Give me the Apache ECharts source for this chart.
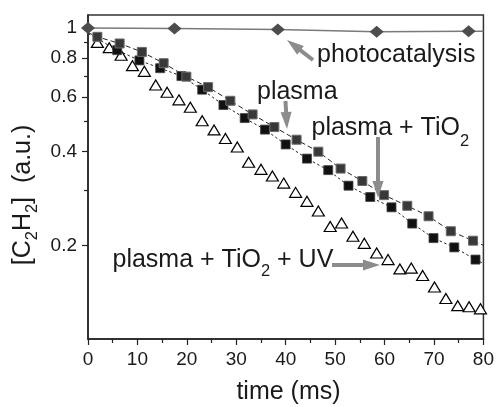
<!DOCTYPE html>
<html><head><meta charset="utf-8">
<script src="https://cdn.jsdelivr.net/npm/echarts@6/dist/echarts.min.js"></script>
<style>html,body{margin:0;padding:0;background:#fff}#c{width:497px;height:407px}</style>
</head><body><div id="c"></div>
<script>
const FONT = '"Liberation Sans", Arial, Helvetica, sans-serif';

// ---- data (time in ms, [C2H2] in a.u.) ----
const photoTime = [0, 17.5, 38.4, 58.4, 77.0];
const photoConc = [1.0, 0.996, 0.988, 0.971, 0.976];
const photoEdge = [80, 0.976];

const plasmaTime = [1.9, 6.4, 10.9, 15.3, 19.9, 24.3, 28.8, 33.3, 37.7, 42.2, 46.6, 51.1, 55.5, 59.9, 64.6, 68.9, 73.4, 77.9];
const plasmaConc = [0.936, 0.891, 0.837, 0.770, 0.697, 0.645, 0.583, 0.527, 0.480, 0.437, 0.400, 0.353, 0.322, 0.290, 0.268, 0.248, 0.222, 0.207];
const plasmaStart = [0, 0.965];
const plasmaEdge = [80, 0.200];

const tio2Time = [5.9, 10.4, 14.6, 18.9, 23.1, 27.4, 31.7, 35.8, 40.0, 44.3, 48.6, 52.7, 57.1, 61.4, 65.6, 69.9, 74.1, 78.4];
const tio2Conc = [0.848, 0.786, 0.742, 0.700, 0.633, 0.565, 0.513, 0.471, 0.422, 0.380, 0.349, 0.311, 0.286, 0.265, 0.235, 0.211, 0.197, 0.180];
const tio2Start = [0, 0.960];
const tio2Edge = [80, 0.175];

const uvTime = [1.9, 4.3, 6.7, 9.0, 11.4, 13.7, 16.0, 18.4, 20.7, 23.1, 25.5, 27.8, 30.2, 32.5, 35.0, 37.3, 39.6, 42.0, 44.3, 46.6, 49.0, 51.3, 53.6, 55.9, 58.4, 60.7, 63.1, 65.4, 67.7, 70.1, 72.4, 74.8, 77.1, 79.4];
const uvConc = [0.898, 0.864, 0.817, 0.756, 0.725, 0.655, 0.621, 0.587, 0.556, 0.503, 0.470, 0.441, 0.414, 0.370, 0.351, 0.334, 0.317, 0.296, 0.277, 0.258, 0.230, 0.236, 0.214, 0.203, 0.189, 0.180, 0.168, 0.169, 0.160, 0.147, 0.135, 0.128, 0.127, 0.125];

const yLabelValues = [0.2, 0.4, 0.6, 0.8, 1];
const yMinorValues = [0.3, 0.5, 0.7, 0.9];

// ---- helpers ----
const zip = (xs, ys) => xs.map((x, i) => [x, ys[i]]);
const ctx = document.createElement('canvas').getContext('2d');
function tw(s, fs) { ctx.font = fs + 'px ' + FONT; return ctx.measureText(s).width; }
const TXT = '#1a1a1a';
function textEl(s, x, y, fs, align) {
  return { type: 'text', x: x, y: y, z: 100,
    style: { text: s, font: fs + 'px ' + FONT, fontSize: fs, fontFamily: FONT, fill: TXT,
      align: align || 'left', textAlign: align || 'left', verticalAlign: 'middle', textVerticalAlign: 'middle' } };
}
function subText(parts, x, y, fs, sfs, dy) {
  const els = []; let cx = x;
  parts.forEach(([s, sub]) => {
    const f = sub ? sfs : fs;
    els.push(textEl(s, cx, sub ? y + dy : y, f, 'left'));
    cx += tw(s, f);
  });
  return els;
}
function subWidth(parts, fs, sfs) { return parts.reduce((a, [s, sub]) => a + tw(s, sub ? sfs : fs), 0); }
const ARROW = '#8c8c8c';
function arrow(x1, y1, x2, y2) {
  const dx = x2 - x1, dy = y2 - y1, L = Math.hypot(dx, dy), ux = dx / L, uy = dy / L;
  const hl = 17, hw = 5.5;
  const bx = x2 - ux * hl, by = y2 - uy * hl;
  return [
    { type: 'line', z: 90, shape: { x1: x1, y1: y1, x2: bx + ux * 2, y2: by + uy * 2 }, style: { stroke: ARROW, lineWidth: 4 } },
    { type: 'polygon', z: 90, shape: { points: [[x2, y2], [bx - uy * hw, by + ux * hw], [bx + uy * hw, by - ux * hw]] }, style: { fill: ARROW } }
  ];
}

// ---- annotations ----
const FS = 25, SFS = 16.5;
const graphics = [];
graphics.push(textEl('photocatalysis', 317, 55.5, FS));
graphics.push(...arrow(313, 60, 287, 40));
graphics.push(textEl('plasma', 257, 91.7, FS));
graphics.push(...arrow(285.5, 101, 287, 129));
graphics.push(...subText([['plasma + TiO', false], ['2', true]], 311.5, 128.4, FS, SFS, 13));
graphics.push(...arrow(378, 137, 378, 198));
graphics.push(...subText([['plasma + TiO', false], ['2', true], [' + UV', false]], 112.5, 260, FS, SFS, 11));
graphics.push(...arrow(332, 265, 380, 265));
graphics.push(textEl('time (ms)', 288.5, 392, FS, 'center'));
const yParts = [['[C', false], ['2', true], ['H', false], ['2', true], [']  (a.u.)', false]];
const yW = subWidth(yParts, FS, SFS);
graphics.push({ type: 'group', x: 23.4, y: 195, rotation: Math.PI / 2, children: subText(yParts, -yW / 2, 0, FS, SFS, 9.5) });

const axisLabelStyle = { color: TXT, fontSize: 19, fontFamily: FONT, margin: 11 };

const chart = echarts.init(document.getElementById('c'), null, { renderer: 'canvas' });
chart.setOption({
  animation: false,
  backgroundColor: '#fff',
  grid: { left: 88, right: 8, top: 15, bottom: 68, show: true, borderColor: '#333', borderWidth: 1.5, backgroundColor: 'transparent' },
  xAxis: {
    type: 'value', min: 0, max: 80, interval: 10,
    axisLine: { show: true, lineStyle: { color: '#222', width: 1.5 } },
    axisTick: { show: true, inside: false, length: 6, lineStyle: { color: '#222', width: 1.2 } },
    minorTick: { show: true, splitNumber: 2, length: 4, lineStyle: { color: '#222', width: 1.2 } },
    axisLabel: axisLabelStyle,
    splitLine: { show: false }
  },
  yAxis: [{
    type: 'log', logBase: 10, min: 0.1, max: 1.1,
    axisLine: { show: true, lineStyle: { color: '#222', width: 1.5 } },
    axisTick: { show: true, inside: false, length: 6, customValues: yLabelValues, lineStyle: { color: '#222', width: 1.2 } },
    axisLabel: Object.assign({ customValues: yLabelValues }, axisLabelStyle),
    splitLine: { show: false }, minorTick: { show: false }
  }, {
    type: 'log', logBase: 10, min: 0.1, max: 1.1, position: 'left',
    axisLine: { show: false },
    axisTick: { show: true, inside: false, length: 4, customValues: yMinorValues, lineStyle: { color: '#222', width: 1.2 } },
    axisLabel: { show: false },
    splitLine: { show: false }, minorTick: { show: false }
  }],
  series: [
    { name: 'photocatalysis line', type: 'line', symbol: 'none', z: 2,
      data: zip(photoTime, photoConc).concat([photoEdge]),
      lineStyle: { color: '#7a7a7a', width: 1.5 } },
    { name: 'photocatalysis', type: 'scatter', symbol: 'diamond', symbolSize: [14, 12], z: 3,
      data: zip(photoTime, photoConc), itemStyle: { color: '#4d4d4d', opacity: 1 } },
    { name: 'plasma + TiO2 line', type: 'line', symbol: 'none', z: 2,
      data: [tio2Start].concat(zip(tio2Time, tio2Conc), [tio2Edge]),
      lineStyle: { color: '#222', width: 1, type: [2.5, 2.5] } },
    { name: 'plasma line', type: 'line', symbol: 'none', z: 2,
      data: [plasmaStart].concat(zip(plasmaTime, plasmaConc), [plasmaEdge]),
      lineStyle: { color: '#222', width: 1, type: [5, 3] } },
    { name: 'plasma + TiO2 + UV', type: 'scatter', symbol: 'triangle', symbolSize: [12, 10], z: 3,
      data: zip(uvTime, uvConc), itemStyle: { color: '#fff', borderColor: '#000', borderWidth: 1.2, opacity: 1 } },
    { name: 'plasma + TiO2', type: 'scatter', symbol: 'rect', symbolSize: 9, z: 3,
      data: zip(tio2Time, tio2Conc), itemStyle: { color: '#111', borderColor: '#444', borderWidth: 0.8, opacity: 1 } },
    { name: 'plasma', type: 'scatter', symbol: 'rect', symbolSize: 9, z: 4,
      data: zip(plasmaTime, plasmaConc), itemStyle: { color: '#383838', borderColor: '#6a6a6a', borderWidth: 1, opacity: 1 } }
  ],
  graphic: { elements: graphics }
});
</script></body></html>
